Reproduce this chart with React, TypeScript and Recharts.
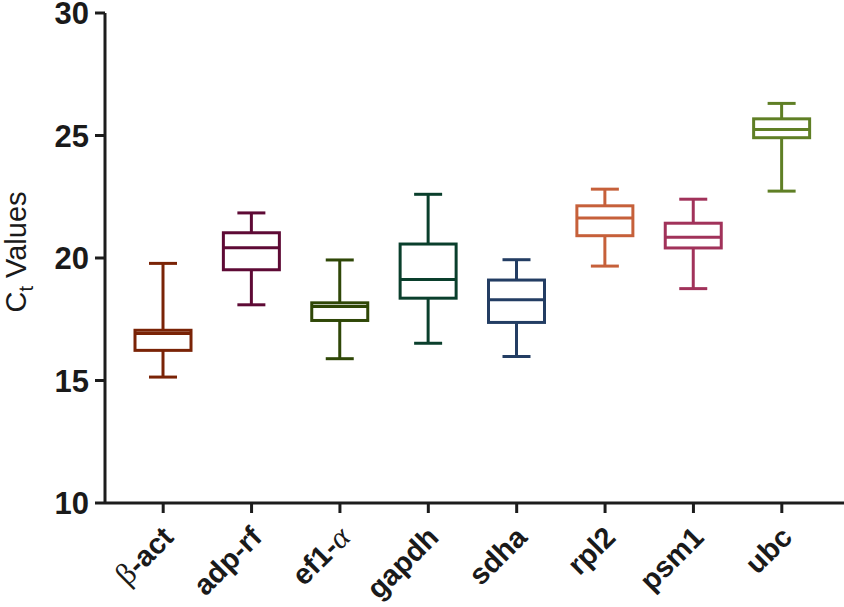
import React from "react";
import { ComposedChart, Bar, XAxis, YAxis, Label } from "recharts";

const categories = ["β-act", "adp-rf", "ef1-α", "gapdh", "sdha", "rpl2", "psm1", "ubc"];
const mins = [15.14, 18.09, 15.89, 16.52, 15.98, 19.67, 18.75, 22.73];
const q1s = [16.23, 19.52, 17.45, 18.36, 17.37, 20.91, 20.41, 24.91];
const medians = [16.92, 20.42, 18.02, 19.12, 18.3, 21.63, 20.85, 25.25];
const q3s = [17.05, 21.03, 18.17, 20.57, 19.1, 22.13, 21.42, 25.68];
const maxs = [19.78, 21.84, 19.92, 22.6, 19.93, 22.81, 22.4, 26.31];
const colors = ["#7a2306", "#5e0a35", "#2f4707", "#0a3f2c", "#233d63", "#c6603a", "#a1325a", "#5f7f25"];
const yTicks = [10, 15, 20, 25, 30];

const data = categories.map((name, i) => ({
  name,
  range: [mins[i], maxs[i]],
  min: mins[i],
  q1: q1s[i],
  median: medians[i],
  q3: q3s[i],
  max: maxs[i],
  color: colors[i],
}));

const AXIS = "#1c1c1c";
const SANS = "Liberation Sans, Arial, Helvetica, sans-serif";
const SERIF = "Liberation Serif, DejaVu Serif, serif";

const BoxShape = (props: any) => {
  const { x, y, width, height, payload } = props;
  if (payload == null) return null;
  const top = Math.min(y, y + height);
  const bottom = Math.max(y, y + height);
  const span = payload.max - payload.min;
  const toY = (v: number) => top + ((payload.max - v) / span) * (bottom - top);
  const cx = x + width / 2;
  const left = x;
  const right = x + width;
  const capHalf = 14;
  const c = payload.color;
  const sw = 3;
  const yQ1 = toY(payload.q1);
  const yQ3 = toY(payload.q3);
  const yMed = toY(payload.median);
  return (
    <g>
      <line x1={cx} x2={cx} y1={top} y2={yQ3} stroke={c} strokeWidth={sw} />
      <line x1={cx} x2={cx} y1={yQ1} y2={bottom} stroke={c} strokeWidth={sw} />
      <line x1={cx - capHalf} x2={cx + capHalf} y1={top} y2={top} stroke={c} strokeWidth={sw} />
      <line x1={cx - capHalf} x2={cx + capHalf} y1={bottom} y2={bottom} stroke={c} strokeWidth={sw} />
      <rect x={left} y={yQ3} width={right - left} height={yQ1 - yQ3} fill="#fff" stroke={c} strokeWidth={sw} />
      <line x1={left} x2={right} y1={yMed} y2={yMed} stroke={c} strokeWidth={sw} />
    </g>
  );
};

const XTick = (props: any) => {
  const { x, y, payload } = props;
  const label: string = payload.value;
  const parts: React.ReactNode[] = [];
  const greek = /[αβ]/;
  let buf = "";
  let idx = 0;
  for (const ch of label) {
    if (greek.test(ch)) {
      if (buf) parts.push(<tspan key={idx++}>{buf}</tspan>);
      buf = "";
      parts.push(
        <tspan key={idx++} fontFamily={SERIF} fontWeight="normal" fontStyle={ch === "α" ? "italic" : "normal"} fontSize={31}>
          {ch}
        </tspan>
      );
    } else {
      buf += ch;
    }
  }
  if (buf) parts.push(<tspan key={idx++}>{buf}</tspan>);
  const ax = x + 12;
  const ay = y + 24;
  return (
    <text
      x={ax}
      y={ay}
      textAnchor="end"
      transform={`rotate(-45 ${ax} ${ay})`}
      fontFamily={SANS}
      fontWeight="bold"
      fontSize={29}
      fill="#1a1a1a"
    >
      {parts}
    </text>
  );
};

const YLabel = (props: any) => {
  const vb = props.viewBox || {};
  const cy = (vb.y ?? 13) + (vb.height ?? 490) / 2 - 6;
  const lx = 26;
  return (
    <text
      x={lx}
      y={cy}
      textAnchor="middle"
      transform={`rotate(-90 ${lx} ${cy})`}
      fontFamily={SANS}
      fontSize={29}
      fill="#1a1a1a"
    >
      <tspan>C</tspan>
      <tspan fontSize={20} dy={7}>t</tspan>
      <tspan dy={-7}> Values</tspan>
    </text>
  );
};

export default function App() {
  return (
    <div style={{ position: "absolute", left: 0, top: 0, background: "#fff" }}>
      <ComposedChart
        width={844}
        height={607}
        data={data}
        margin={{ top: 13, right: 0, bottom: 0, left: 0 }}
        barCategoryGap={0}
      >
        <XAxis
          dataKey="name"
          type="category"
          height={104}
          padding={{ left: 14, right: 18 }}
          axisLine={{ stroke: AXIS, strokeWidth: 3 }}
          tickLine={{ stroke: AXIS, strokeWidth: 3 }}
          tickSize={10}
          tick={<XTick />}
          interval={0}
        />
        <YAxis
          type="number"
          domain={[10, 30]}
          ticks={yTicks}
          width={105}
          axisLine={{ stroke: AXIS, strokeWidth: 3 }}
          tickLine={{ stroke: AXIS, strokeWidth: 3 }}
          tickSize={10}
          tickMargin={6}
          tick={{ fontFamily: SANS, fontWeight: "bold", fontSize: 31, fill: "#1a1a1a" }}
          interval={0}
        >
          <Label content={<YLabel />} />
        </YAxis>
        <Bar dataKey="range" barSize={56} shape={<BoxShape />} isAnimationActive={false} />
      </ComposedChart>
    </div>
  );
}
